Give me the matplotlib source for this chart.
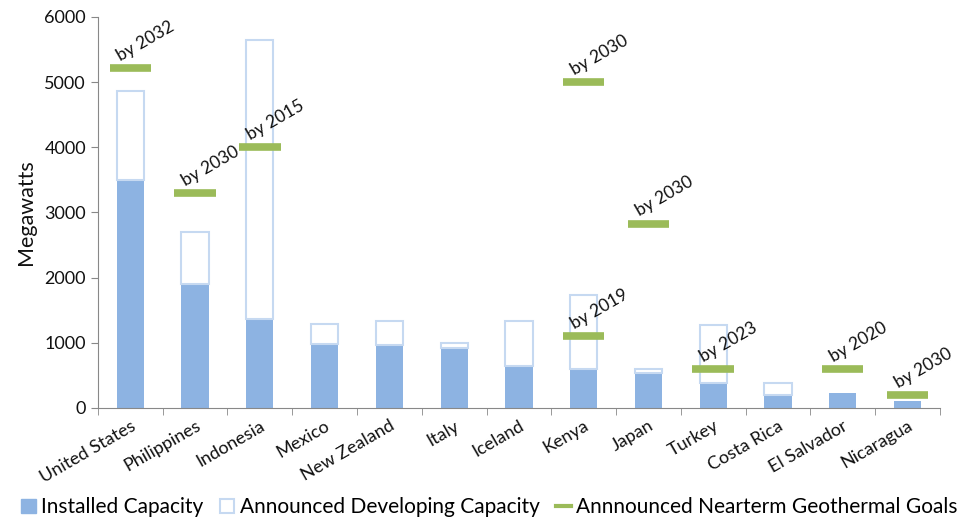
import numpy as np
import matplotlib.pyplot as plt
from matplotlib.lines import Line2D
from matplotlib.patches import Patch

countries = ['United States', 'Philippines', 'Indonesia', 'Mexico', 'New Zealand', 'Italy',
             'Iceland', 'Kenya', 'Japan', 'Turkey', 'Costa Rica', 'El Salvador', 'Nicaragua']
installed = [3500, 1900, 1370, 980, 960, 920, 650, 600, 530, 390, 200, 230, 100]
developing = [1370, 800, 4280, 310, 380, 70, 690, 1130, 60, 890, 190, 0, 0]

# goals: (country index, MW, label)
goal_idx = [0, 1, 2, 7, 7, 8, 9, 11, 12]
goal_mw = [5220, 3300, 4000, 5000, 1100, 2830, 600, 600, 200]
goal_lbl = ['by 2032', 'by 2030', 'by 2015', 'by 2030', 'by 2019', 'by 2030',
            'by 2023', 'by 2020', 'by 2030']

plt.rcParams['font.family'] = ['Lato', 'DejaVu Sans']

blue = '#8db3e2'
edge = '#c6d9f1'
green = '#9bbb59'

fig = plt.figure(figsize=(9.69, 5.23), dpi=100)
ax = fig.add_axes([0.101, 0.22, 0.869, 0.7475])

x = np.arange(len(countries))
dev = np.array(developing)
ax.bar(x, installed, width=0.42, color=blue, zorder=2)
ax.bar(x[dev > 0], dev[dev > 0], width=0.42, bottom=np.array(installed)[dev > 0],
       color='white', edgecolor=edge, linewidth=1.5, zorder=2)

for i, mw, lbl in zip(goal_idx, goal_mw, goal_lbl):
    ax.plot([i - 0.32, i + 0.32], [mw, mw], color=green, linewidth=5.5,
            solid_capstyle='butt', zorder=3)
    ax.annotate(lbl, (i - 0.12, mw), xytext=(0, 3), textcoords='offset points',
                rotation=30, ha='left', va='bottom', fontsize=12.5, color='#111111',
                rotation_mode='anchor', zorder=4)

ax.set_xlim(-0.5, len(countries) - 0.5)
ax.set_ylim(0, 6000)
ax.set_yticks(range(0, 6001, 1000))
ax.set_ylabel('Megawatts', fontsize=15.5, color='#111111', labelpad=6)

ax.set_xticks(x)
ax.set_xticklabels(countries, rotation=30, ha='right', rotation_mode='anchor',
                   fontsize=13, color='#111111')
ax.tick_params(axis='x', length=0, pad=7)
ax.set_xticks(np.arange(-0.5, len(countries), 1), minor=True)
ax.tick_params(axis='x', which='minor', length=5, color='#888888')
ax.tick_params(axis='y', length=5, color='#888888', labelsize=13, labelcolor='#111111')

for s in ['top', 'right']:
    ax.spines[s].set_visible(False)
for s in ['left', 'bottom']:
    ax.spines[s].set_color('#888888')

handles = [Patch(facecolor=blue, edgecolor=blue),
           Patch(facecolor='white', edgecolor=edge, linewidth=1.5),
           Line2D([0], [0], color=green, linewidth=3)]
labels = ['Installed Capacity', 'Announced Developing Capacity', 'Annnounced Nearterm Geothermal Goals']
fig.legend(handles, labels, loc='lower center', bbox_to_anchor=(0.505, -0.005), ncol=3,
           frameon=False, fontsize=15, handlelength=0.7, handletextpad=0.25,
           columnspacing=0.8, borderaxespad=0)

fig.savefig('out.png', dpi=100)
